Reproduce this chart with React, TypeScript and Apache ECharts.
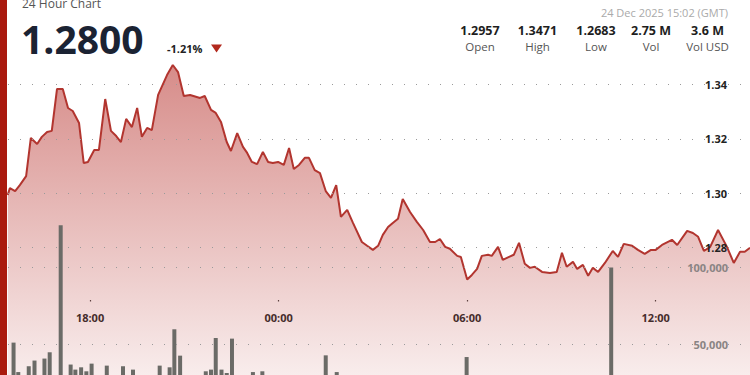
import React, { useEffect, useRef } from "react";
import * as echarts from "echarts";

const chartTitle = "24 Hour Chart";
const lastPrice = "1.2800";
const changePct = "-1.21%";
const timestamp = "24 Dec 2025 15:02 (GMT)";
const statValues = ["1.2957", "1.3471", "1.2683", "2.75 M", "3.6 M"];
const statLabels = ["Open", "High", "Low", "Vol", "Vol USD"];

const timeTickLabels = ["18:00", "00:00", "06:00", "12:00"];
const priceTicks = [1.28, 1.3, 1.32, 1.34];
const volumeTicks = [50000, 100000];

const priceTimes = [
  "15:23", "15:27", "15:37", "15:46", "15:58", "16:07", "16:19", "16:28", "16:38", "16:47",
  "16:57", "17:08", "17:18", "17:27", "17:39", "17:48", "17:56", "18:08", "18:17", "18:29",
  "18:40", "18:50", "18:59", "19:09", "19:20", "19:30", "19:39", "19:49", "19:58", "20:10",
  "20:27", "20:38", "20:48", "20:59", "21:11", "21:30", "21:39", "21:51", "22:00", "22:10",
  "22:21", "22:29", "22:41", "22:52", "23:00", "23:09", "23:19", "23:30", "23:40", "23:49",
  "23:59", "00:10", "00:20", "00:29", "00:39", "00:50", "00:58", "01:09", "01:19", "01:30",
  "01:40", "01:50", "01:59", "02:11", "02:22", "02:39", "02:49", "03:00", "03:10", "03:19",
  "03:29", "03:38", "03:48", "03:57", "04:11", "04:24", "04:36", "04:49", "04:59", "05:08",
  "05:18", "05:27", "05:41", "05:48", "06:00", "06:09", "06:19", "06:28", "06:40", "06:47",
  "06:59", "07:08", "07:20", "07:29", "07:39", "07:50", "08:00", "08:09", "08:23", "08:38",
  "08:51", "09:01", "09:10", "09:22", "09:30", "09:41", "09:51", "10:00", "10:10", "10:23",
  "10:38", "10:48", "10:59", "11:15", "11:26", "11:39", "11:51", "12:00", "12:12", "12:31",
  "12:41", "13:00", "13:11", "13:21", "13:32", "13:44", "13:59", "14:16", "14:29", "14:41",
  "14:50", "15:00",
];

const prices = [
  1.2994, 1.3019, 1.3008, 1.303, 1.3063, 1.3203, 1.3181, 1.3207, 1.3225, 1.3229,
  1.3383, 1.3383, 1.3313, 1.3302, 1.3258, 1.3111, 1.3115, 1.3159, 1.3159, 1.3346,
  1.3229, 1.321, 1.3188, 1.3273, 1.3243, 1.3313, 1.3207, 1.324, 1.3232, 1.3361,
  1.3434, 1.3471, 1.3445, 1.3357, 1.3361, 1.335, 1.3357, 1.3306, 1.3295, 1.3262,
  1.3188, 1.3155, 1.3221, 1.317, 1.3148, 1.3115, 1.3107, 1.3152, 1.3115, 1.3111,
  1.3115, 1.3104, 1.3166, 1.3089, 1.3104, 1.313, 1.313, 1.3085, 1.3074, 1.3008,
  1.2983, 1.303, 1.2913, 1.2939, 1.2891, 1.2821, 1.2807, 1.2792, 1.2807, 1.2847,
  1.2876, 1.2891, 1.2906, 1.2979, 1.2931, 1.2895, 1.2865, 1.2821, 1.2821, 1.2832,
  1.2803, 1.2796, 1.277, 1.2766, 1.2683, 1.27, 1.2722, 1.277, 1.2774, 1.277,
  1.2803, 1.2755, 1.2766, 1.2774, 1.2818, 1.2741, 1.2726, 1.273, 1.2711, 1.2707,
  1.2711, 1.2781, 1.273, 1.2748, 1.2722, 1.2737, 1.2697, 1.2726, 1.2711, 1.2744,
  1.2788, 1.2766, 1.2814, 1.2807, 1.2792, 1.2777, 1.2792, 1.2792, 1.281, 1.2829,
  1.281, 1.2862, 1.2854, 1.284, 1.2788, 1.2803, 1.2865, 1.2803, 1.2744, 1.2785,
  1.2785, 1.28,
];

const volumeTimes = [
  "15:34", "15:43", "16:03", "16:14", "16:33", "16:43", "17:04", "17:23", "17:32", "17:43",
  "17:53", "18:03", "18:32", "19:03", "19:22", "20:13", "20:32", "20:41", "20:52", "21:41",
  "21:51", "22:00", "22:11", "22:21", "22:31", "23:11", "23:29", "01:30", "01:51", "05:59",
  "10:35",
];

const volumes = [
  51100, 31900, 35700, 39400, 40700, 44800, 127600, 36800, 33500, 35000,
  32400, 37400, 36100, 35700, 33500, 36100, 35000, 59800, 42600, 32400,
  33500, 54100, 33500, 31300, 53700, 31900, 32400, 42800, 31900, 41700,
  100000,
];

// hours since start-of-first-day, rolling over midnight
function toHours(times: string[]): number[] {
  let offset = 0;
  let prev = -Infinity;
  return times.map((t) => {
    const [h, m] = t.split(":").map(Number);
    let v = h + m / 60 + offset;
    if (v < prev) {
      offset += 24;
      v += 24;
    }
    prev = v;
    return v;
  });
}

const FONT = "'Open Sans', 'Noto Sans', sans-serif";

export default function App() {
  const ref = useRef<HTMLDivElement>(null);

  useEffect(() => {
    if (!ref.current) return;
    const chart = echarts.init(ref.current, null, { renderer: "svg" });

    const pHours = toHours(priceTimes);
    const vHours = toHours(volumeTimes);
    const tickHours = toHours(timeTickLabels);
    const priceData = pHours.map((h, i) => [h, prices[i]]);
    const volData = vHours.map((h, i) => [h, volumes[i]]);

    const X_MIN = 15.39;
    const X_MAX = 39.0;
    const P_MIN = 1.21636;
    const P_MAX = 1.37096;
    const V_MAX = 274446;

    const statX = [480, 537.5, 596, 651, 707.5];

    const graphic: any[] = [
      {
        type: "rect",
        shape: { x: 0, y: 0, width: 7, height: 421 },
        style: { fill: "#aa1a0e" },
        z: 100,
      },
      {
        type: "text",
        x: 22,
        y: 3,
        style: { text: chartTitle, fontFamily: FONT, fontSize: 12, fill: "#555", verticalAlign: "middle" },
        z: 100,
      },
      {
        type: "text",
        x: 21,
        y: 38,
        style: { text: lastPrice, fontFamily: FONT, fontSize: 39, fontWeight: "bold", fill: "#1b2333", verticalAlign: "middle" },
        z: 100,
      },
      {
        type: "text",
        x: 167,
        y: 48,
        style: { text: changePct, fontFamily: FONT, fontSize: 11, fontWeight: "bold", fill: "#222", verticalAlign: "middle" },
        z: 100,
      },
      {
        type: "polygon",
        shape: { points: [[211, 44.5], [222, 44.5], [216.5, 52.5]] },
        style: { fill: "#b2291d" },
        z: 100,
      },
      {
        type: "text",
        x: 728,
        y: 12.5,
        style: { text: timestamp, fontFamily: FONT, fontSize: 11, fill: "#aaa", align: "right", verticalAlign: "middle" },
        z: 100,
      },
    ];
    statValues.forEach((v, i) => {
      graphic.push({
        type: "text",
        x: statX[i],
        y: 30.5,
        style: { text: v, fontFamily: FONT, fontSize: 12.5, lineHeight: 13, fontWeight: "bold", fill: "#1e1e1e", align: "center", verticalAlign: "middle" },
        z: 100,
      });
      graphic.push({
        type: "text",
        x: statX[i],
        y: 46.5,
        style: { text: statLabels[i], fontFamily: FONT, fontSize: 11.5, lineHeight: 12, fill: "#555", align: "center", verticalAlign: "middle" },
        z: 100,
      });
    });

    const dotted = { type: [1, 11], color: "#9a9a9a", width: 1 };

    chart.setOption({
      animation: false,
      grid: [
        { left: 8, right: 0, top: 0, bottom: 0 },
        { left: 8, right: 0, top: 0, height: 300 },
      ],
      xAxis: [
        { type: "value", gridIndex: 0, min: X_MIN, max: X_MAX, show: false },
        {
          type: "value",
          gridIndex: 1,
          min: X_MIN,
          max: X_MAX,
          axisLine: { show: false },
          splitLine: { show: false },
          axisTick: { show: true, customValues: tickHours, length: 1.5, lineStyle: { color: "#444", width: 1.2 } },
          axisLabel: {
            customValues: tickHours,
            formatter: (v: number) => {
              const idx = tickHours.findIndex((t) => Math.abs(t - v) < 0.01);
              return idx >= 0 ? timeTickLabels[idx] : "";
            },
            fontFamily: FONT,
            fontWeight: "bold",
            fontSize: 11,
            color: "#2a2a2a",
            margin: 12,
          },
        },
      ],
      yAxis: [
        {
          type: "value",
          gridIndex: 0,
          position: "right",
          min: P_MIN,
          max: P_MAX,
          z: 5,
          axisLine: { show: false },
          axisTick: { show: false, customValues: priceTicks },
          axisLabel: {
            inside: true,
            margin: 23,
            customValues: priceTicks,
            formatter: (v: number) => v.toFixed(2),
            fontFamily: FONT,
            fontWeight: "bold",
            fontSize: 11,
            color: "#222",
          },
          splitLine: { show: true, lineStyle: dotted },
        },
        {
          type: "value",
          gridIndex: 0,
          position: "right",
          min: 0,
          max: V_MAX,
          z: 5,
          axisLine: { show: false },
          axisTick: { show: false, customValues: volumeTicks },
          axisLabel: {
            inside: true,
            margin: 22,
            customValues: volumeTicks,
            formatter: (v: number) => v.toLocaleString("en-US"),
            fontFamily: FONT,
            fontWeight: "bold",
            fontSize: 11,
            color: "#8a8484",
          },
          splitLine: { show: true, lineStyle: dotted },
        },
        { type: "value", gridIndex: 1, min: 0, max: 1, show: false },
      ],
      series: [
        {
          type: "line",
          xAxisIndex: 0,
          yAxisIndex: 0,
          data: priceData,
          symbol: "none",
          lineStyle: { color: "#b2352f", width: 2 },
          areaStyle: {
            origin: "start",
            color: new echarts.graphic.LinearGradient(0, 0, 0, 1, [
              { offset: 0, color: "rgba(185,55,50,0.82)" },
              { offset: 1, color: "rgba(185,55,50,0.03)" },
            ]),
          },
          z: 2,
        },
        {
          type: "bar",
          xAxisIndex: 0,
          yAxisIndex: 1,
          data: volData,
          barWidth: 4,
          itemStyle: { color: "#6b6b67" },
          z: 3,
        },
      ],
      graphic,
    });

    return () => chart.dispose();
  }, []);

  return (
    <div style={{ position: "fixed", left: 0, top: 0, width: 750, height: 375, overflow: "hidden", background: "#fff" }}>
      <div ref={ref} style={{ position: "absolute", left: 0, top: 0, width: 750, height: 421 }} />
    </div>
  );
}
